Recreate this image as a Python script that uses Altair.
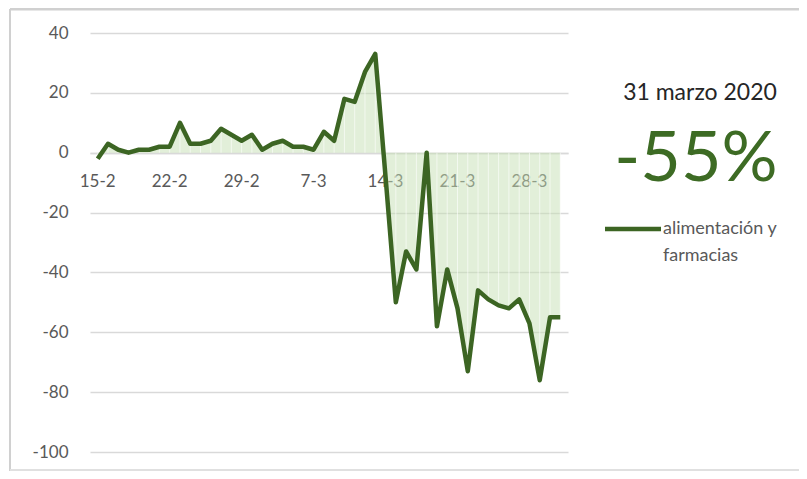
import altair as alt
import pandas as pd

# Días (15-feb a 31-mar 2020)
dias = [f"{d}-2" for d in range(15, 30)] + [f"{d}-3" for d in range(1, 32)]

# Variación diaria (%) alimentación y farmacias
valores = [
    -2, 3, 1, 0, 1, 1, 2, 2, 10, 3,
    3, 4, 8, 6, 4, 6, 1, 3, 4, 2,
    2, 1, 7, 4, 18, 17, 27, 33, -8, -50,
    -33, -39, 0, -58, -39, -52, -73, -46, -49, -51,
    -52, -49, -57, -76, -55, -55,
]

etiquetas_x = ["15-2", "22-2", "29-2", "7-3", "14-3", "21-3", "28-3"]
fecha_titulo = "31 marzo 2020"
serie_nombre = ["alimentación y", "farmacias"]

df = pd.DataFrame({"dia": dias, "valor": valores, "cero": [0] * len(dias)})

W, H = 478, 419
VERDE = "#3c6523"
GRIS = "#595959"
FONT = "Lato"

xenc = alt.X(
    "dia:O",
    sort=dias,
    scale=alt.Scale(padding=0.5),
    axis=alt.Axis(
        values=etiquetas_x,
        labelAngle=0,
        title=None,
        offset=-299,
        ticks=False,
        domainColor="#d9d9d9",
        domainWidth=1.5,
        labelPadding=20,
        labelFontSize=17,
        labelColor=GRIS,
        labelFont=FONT,
        grid=False,
    ),
)
xsimple = alt.X("dia:O", sort=dias)
yenc = alt.Y(
    "valor:Q",
    scale=alt.Scale(domain=[-100, 40], nice=False),
    axis=alt.Axis(
        values=[-100, -80, -60, -40, -20, 0, 20, 40],
        labelExpr="datum.value + ''",
        title=None,
        domain=False,
        ticks=False,
        labelPadding=22,
        labelFontSize=17,
        labelColor=GRIS,
        labelFont=FONT,
        gridColor="#d9d9d9",
        gridWidth=1.5,
    ),
)

base = alt.Chart(df)

area = base.mark_area(color="#c6e0b4", opacity=0.5, interpolate="linear").encode(
    x=xenc, y=yenc
)
rayas = base.mark_rule(color="white", opacity=0.6, strokeWidth=1).encode(
    x=xsimple, y="valor:Q", y2="cero:Q"
)
linea = base.mark_line(color=VERDE, strokeWidth=4.5, strokeJoin="round").encode(
    x=xsimple, y="valor:Q"
)

one = alt.Chart(pd.DataFrame({"a": [0]}))

# marco decorativo (arriba, izquierda, abajo)
marco_sup = one.mark_rule(color="#d0d0d0", strokeWidth=3).encode(
    x=alt.value(-80), x2=alt.value(W + 240), y=alt.value(-24)
)
marco_izq = one.mark_rule(color="#d0d0d0", strokeWidth=2).encode(
    x=alt.value(-80), y=alt.value(-24), y2=alt.value(H + 19)
)
marco_inf = one.mark_rule(color="#e0e0e0", strokeWidth=2).encode(
    x=alt.value(-80), x2=alt.value(W + 240), y=alt.value(H + 18)
)

titulo = one.mark_text(
    text=fecha_titulo, font=FONT, fontSize=23, color="#262626", align="center", baseline="middle"
).encode(x=alt.value(610), y=alt.value(60))

grande = one.mark_text(
    text=f"{valores[-1]}%", font=FONT, fontSize=70, color="#3d6b24", align="center", baseline="middle"
).encode(x=alt.value(606), y=alt.value(127))

ley_linea = one.mark_rule(color=VERDE, strokeWidth=4.5).encode(
    x=alt.value(515), x2=alt.value(571), y=alt.value(196)
)
ley_t1 = one.mark_text(
    text=serie_nombre[0], font=FONT, fontSize=18, color=GRIS, align="left", baseline="middle"
).encode(x=alt.value(573), y=alt.value(196))
ley_t2 = one.mark_text(
    text=serie_nombre[1], font=FONT, fontSize=18, color=GRIS, align="left", baseline="middle"
).encode(x=alt.value(573), y=alt.value(223))

chart = (
    alt.layer(marco_sup, marco_izq, marco_inf, area, rayas, linea, titulo, grande,
              ley_linea, ley_t1, ley_t2)
    .properties(
        width=W,
        height=H,
        background="white",
        autosize=alt.AutoSizeParams(type="none"),
        padding={"left": 82, "top": 25, "right": 231, "bottom": 19},
    )
    .configure_view(strokeWidth=0, stroke="transparent")
)

chart.save("out.html", embed_options={"renderer": "svg", "actions": False})
